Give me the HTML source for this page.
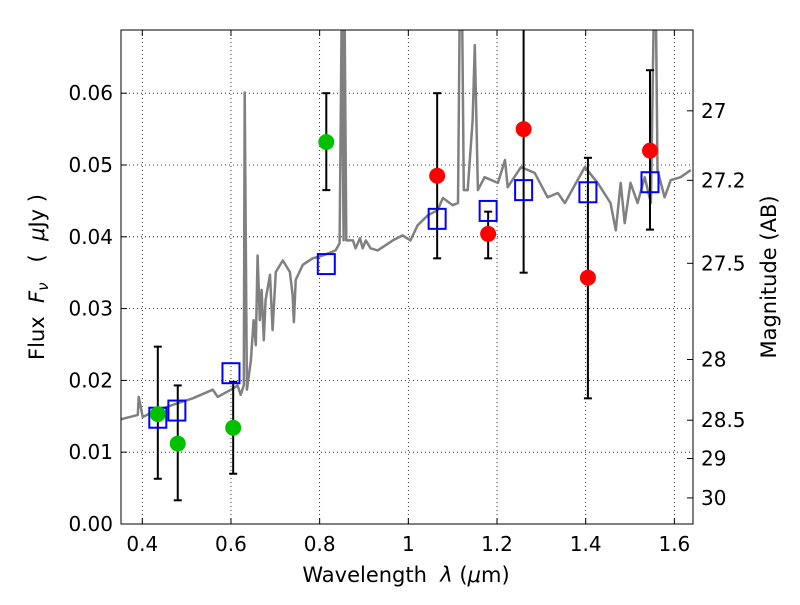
<!DOCTYPE html>
<html><head><meta charset="utf-8"><style>
body{margin:0;background:#fff}
svg text{font-family:"DejaVu Sans","Liberation Sans",sans-serif;fill:#000;white-space:pre}
</style></head><body>
<svg id="chart" width="800" height="600" xmlns="http://www.w3.org/2000/svg">
<rect width="800" height="600" fill="#fff"/>
<defs><clipPath id="clip"><rect x="121" y="30" width="572" height="494"/></clipPath></defs>
<g id="grid"></g>
<g id="plot" clip-path="url(#clip)"></g>
<rect x="121" y="30" width="572" height="494" fill="none" stroke="#000" stroke-width="1"/>
<g id="axes"></g>
<text x="406" y="582" font-size="21" text-anchor="middle">Wavelength  <tspan font-style="italic">λ</tspan> (<tspan font-style="italic">μ</tspan>m)</text>
<text transform="translate(44,277) rotate(-90)" font-size="21" text-anchor="middle">Flux  <tspan font-style="italic">F</tspan><tspan font-style="italic" font-size="15" dy="4">ν</tspan><tspan dy="-4">   (  </tspan><tspan font-style="italic">μ</tspan>Jy )</text>
<text transform="translate(776,277) rotate(-90)" font-size="21" text-anchor="middle">Magnitude (AB)</text>
</svg>
<script>
const specWl=[0.347,0.390,0.392,0.401,0.424,0.469,0.514,0.559,0.570,0.600,0.615,0.622,0.629,0.631,0.636,0.645,0.651,0.656,0.660,0.665,0.669,0.674,0.678,0.688,0.694,0.701,0.717,0.733,0.739,0.742,0.746,0.762,0.784,0.807,0.836,0.845,0.850,0.854,0.856,0.860,0.875,0.881,0.891,0.897,0.904,0.915,0.931,0.965,0.987,1.005,1.021,1.044,1.066,1.078,1.100,1.112,1.116,1.121,1.125,1.134,1.145,1.150,1.157,1.172,1.202,1.218,1.224,1.254,1.285,1.314,1.337,1.353,1.398,1.427,1.456,1.468,1.479,1.488,1.501,1.517,1.533,1.547,1.554,1.558,1.562,1.578,1.592,1.614,1.637];
const specFlux=[0.0145,0.0152,0.0177,0.0149,0.0156,0.0166,0.0175,0.0187,0.0177,0.0187,0.0193,0.0180,0.0193,0.0601,0.0187,0.0228,0.0284,0.0249,0.0374,0.0284,0.0326,0.0256,0.0312,0.0347,0.0270,0.0351,0.0367,0.0351,0.0319,0.0281,0.0340,0.0361,0.0370,0.0374,0.0381,0.0391,0.0729,0.0395,0.0729,0.0395,0.0395,0.0384,0.0398,0.0384,0.0395,0.0384,0.0381,0.0395,0.0402,0.0395,0.0416,0.0430,0.0437,0.0454,0.0444,0.0447,0.073,0.073,0.0465,0.0465,0.0562,0.0667,0.0465,0.0483,0.0475,0.0507,0.0469,0.0497,0.0489,0.0455,0.0461,0.0447,0.0497,0.0475,0.0447,0.0409,0.0475,0.0419,0.0475,0.0447,0.0483,0.0447,0.073,0.073,0.0493,0.0455,0.0479,0.0483,0.0493];
const greenWl=[0.435,0.48,0.605,0.815];
const greenFlux=[0.0153,0.0112,0.0134,0.0532];
const greenLo=[0.0063,0.0033,0.0070,0.0465];
const greenHi=[0.0247,0.0193,0.0198,0.0600];
const redWl=[1.065,1.18,1.26,1.405,1.545];
const redFlux=[0.0485,0.0404,0.0550,0.0343,0.0520];
const redLo=[0.0370,0.0370,0.0350,0.0175,0.0410];
const redHi=[0.0600,0.0435,0.0800,0.0510,0.0632];
const modelWl=[0.435,0.478,0.600,0.815,1.065,1.180,1.260,1.405,1.545];
const modelFlux=[0.0148,0.0158,0.0210,0.0362,0.0425,0.0436,0.0465,0.0462,0.0476];
const xTicks=[0.4,0.6,0.8,1.0,1.2,1.4,1.6];
const xTickLabels=["0.4","0.6","0.8","1","1.2","1.4","1.6"];
const yTicks=[0,0.01,0.02,0.03,0.04,0.05,0.06];
const yTickLabels=["0.00","0.01","0.02","0.03","0.04","0.05","0.06"];
const magTicks=[27,27.2,27.5,28,28.5,29,30];
const magTickLabels=["27","27.2","27.5","28","28.5","29","30"];

const X0=121,X1=693,Y0=524,Y1=30,XMIN=0.352,XMAX=1.642,YMIN=0,YMAX=0.0688;
const sx=v=>X0+(v-XMIN)/(XMAX-XMIN)*(X1-X0);
const sy=v=>Y0-(v-YMIN)/(YMAX-YMIN)*(Y0-Y1);
const magToFlux=m=>Math.pow(10,(23.9-m)/2.5);
const NS="http://www.w3.org/2000/svg";
function mk(parent,tag,attrs){const e=document.createElementNS(NS,tag);for(const k in attrs)e.setAttribute(k,attrs[k]);parent.appendChild(e);return e;}
const grid=document.getElementById('grid'),plot=document.getElementById('plot'),axes=document.getElementById('axes');

xTicks.forEach((t,i)=>{
  const x=sx(t);
  const g=mk(grid,'line',{x1:x,x2:x,y1:Y1,y2:Y0,stroke:'#000','stroke-width':0.8,'stroke-dasharray':'1,3'});
  
  
  mk(axes,'line',{x1:x,x2:x,y1:Y0,y2:Y0-6,stroke:'#000'});
  mk(axes,'line',{x1:x,x2:x,y1:Y1,y2:Y1+6,stroke:'#000'});
  const l=mk(axes,'text',{x:x,y:Y0+27,'font-size':20,'text-anchor':'middle'});
  l.textContent=xTickLabels[i];
  
  
});
yTicks.forEach((t,i)=>{
  const y=sy(t);
  const g=mk(grid,'line',{x1:X0,x2:X1,y1:y,y2:y,stroke:'#000','stroke-width':0.8,'stroke-dasharray':'1,3'});
  
  
  mk(axes,'line',{x1:X0,x2:X0+6,y1:y,y2:y,stroke:'#000'});
  const l=mk(axes,'text',{x:X0-8,y:y+7,'font-size':20,'text-anchor':'end'});
  l.textContent=yTickLabels[i];
  
  
});
magTicks.forEach((m,i)=>{
  const y=sy(magToFlux(m));
  mk(axes,'line',{x1:X1,x2:X1-6,y1:y,y2:y,stroke:'#000'});
  const l=mk(axes,'text',{x:X1+8,y:y+7,'font-size':20,'text-anchor':'start'});
  l.textContent=magTickLabels[i];
  
  
});

const pts=specWl.map((w,i)=>sx(w).toFixed(1)+','+sy(specFlux[i]).toFixed(1)).join(' ');
const sp=mk(plot,'polyline',{points:pts,fill:'none',stroke:'#808080','stroke-width':2.5,'stroke-linejoin':'round'});



function errbar(w,lo,hi){
  const x=sx(w),a=sy(lo),b=sy(hi);
  const g=mk(plot,'g',{stroke:'#000','stroke-width':2});
  
  
  mk(g,'line',{x1:x,x2:x,y1:a,y2:b});
  mk(g,'line',{x1:x-4,x2:x+4,y1:a,y2:a});
  mk(g,'line',{x1:x-4,x2:x+4,y1:b,y2:b});
}
greenWl.forEach((w,i)=>errbar(w,greenLo[i],greenHi[i]));
redWl.forEach((w,i)=>errbar(w,redLo[i],redHi[i]));
modelWl.forEach((w,i)=>{
  const r=mk(plot,'rect',{x:sx(w)-8.5,y:sy(modelFlux[i])-10,width:17,height:20,fill:'none',stroke:'#0000ff','stroke-width':2});
  
  
});
greenWl.forEach((w,i)=>{
  const c=mk(plot,'circle',{cx:sx(w),cy:sy(greenFlux[i]),r:8,fill:'#00c000'});
  
  
});
redWl.forEach((w,i)=>{
  const c=mk(plot,'circle',{cx:sx(w),cy:sy(redFlux[i]),r:8,fill:'#ff0000'});
  
  
});
</script>
</body></html>
